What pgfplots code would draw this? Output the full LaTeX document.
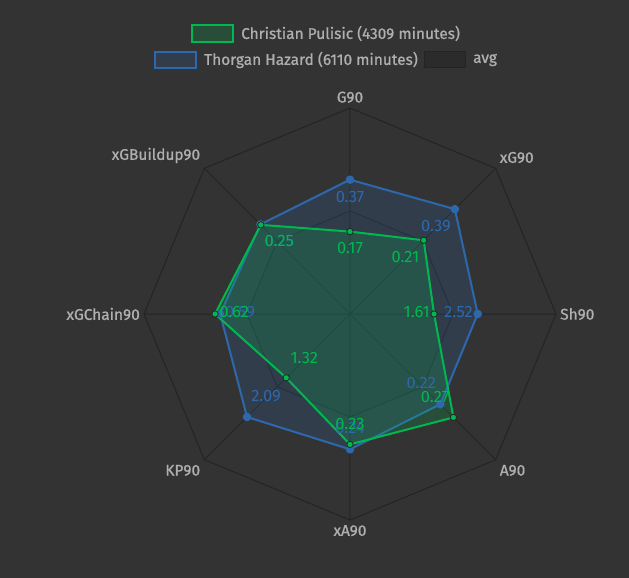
\documentclass[border=0pt]{standalone}
\usepackage{fontspec}
\setmainfont{Fira Sans}
\newfontfamily\medfont{Fira Sans}[FakeBold=0.8]
\usepackage{pgfplots}
\usepackage{pgfplotstable}
\usepgfplotslibrary{polar}
\pgfplotsset{compat=1.18}

\definecolor{bg}{RGB}{51,51,51}
\definecolor{gridc}{RGB}{36,36,36}
\definecolor{grn}{RGB}{0,184,80}
\definecolor{blu}{RGB}{46,104,172}
\definecolor{txt}{RGB}{175,175,175}

% ang = spoke angle, r = plotted radius (share of outer ring), lab = shown value
\pgfplotstableread{
ang r lab
90 0.400 0.17
45 0.506 0.21
0 0.408 1.61
315 0.710 0.27
270 0.633 0.23
225 0.438 1.32
180 0.655 0.62
135 0.612 0.25
}\pulisic

\pgfplotstableread{
ang r lab
90 0.652 0.37
45 0.720 0.39
0 0.620 2.52
315 0.620 0.22
270 0.657 0.24
225 0.707 2.09
180 0.630 0.59
135 0.615 0.25
}\thorgan

\pgfplotstableread{
ang r
90 0.5
45 0.5
0 0.5
315 0.5
270 0.5
225 0.5
180 0.5
135 0.5
}\avg

\pgfplotstableread{
ang r
90 1
45 1
0 1
315 1
270 1
225 1
180 1
135 1
}\ring

\newcommand\tickanchor{\ifcase\ticknum west\or south west\or south\or south east\or east\or north east\or north\or north west\fi}

\pgfplotsset{
    vallabels/.style={
        nodes near coords={\fontsize{16.5}{18}\selectfont\pgfplotspointmeta},
        point meta=explicit symbolic,
        visualization depends on={\thisrow{ang} \as \ang},
        every node near coord/.append style={anchor=\ang, text=#1,
            text opacity=1, fill opacity=1,
            inner xsep=4bp, inner ysep=9.5bp, text height=12bp, text depth=5bp},
    },
}

\begin{document}
\begin{tikzpicture}[x=1bp,y=1bp]
\fill[bg] (-350,-264) rectangle (279,314);
\path[use as bounding box] (-350,-264) rectangle (279,314);
\begin{polaraxis}[
    at={(0,0)}, anchor=center,
    width=412bp, height=412bp, scale only axis,
    ymin=0, ymax=1,
    xtick={0,45,...,315},
    xticklabels={Sh90,xG90,G90,xGBuildup90,xGChain90,KP90,xA90,A90},
    ytick=\empty,
    axis line style={draw=none},
    xmajorgrids,
    grid style={gridc, line width=1bp},
    major tick length=0pt,
    xticklabel style={font=\medfont\fontsize{15.5}{17}\selectfont, text=txt,
        anchor=\tickanchor, inner xsep=4bp, inner ysep=5bp},
    clip=false,
]
\addplot[gridc, line width=1bp] table[x=ang, y=r] {\ring} -- cycle;
\addplot[gridc, line width=1bp, fill=black, fill opacity=0.04] table[x=ang, y=r] {\avg} -- cycle;

\addplot[blu, line width=2bp, fill=blu, fill opacity=0.2,
    mark=*, mark size=3.2bp, mark options={fill=blu, draw=blu, fill opacity=1},
    vallabels=blu]
    table[x=ang, y=r, meta=lab] {\thorgan} -- cycle;

\addplot[grn, line width=2bp, fill=grn, fill opacity=0.2,
    mark=*, mark size=3.2bp, mark options={fill=grn, draw=gridc, line width=0.8bp, fill opacity=1},
    vallabels=grn]
    table[x=ang, y=r, meta=lab] {\pulisic} -- cycle;
\end{polaraxis}

% legend
\begin{scope}[font=\medfont\fontsize{15.5}{17}\selectfont]
\fill[grn, fill opacity=0.2] (-158,272) rectangle (-117,289);
\draw[grn, line width=2bp] (-158,272) rectangle (-117,289);
\node[anchor=west, text=txt, inner sep=0pt] at (-109,280.5) {Christian Pulisic (4309 minutes)};
\fill[blu, fill opacity=0.2] (-195,246) rectangle (-154,262);
\draw[blu, line width=2bp] (-195,246) rectangle (-154,262);
\node[anchor=west, text=txt, inner sep=0pt] at (-146,254) {Thorgan Hazard (6110 minutes)};
\fill[black, fill opacity=0.15] (74,246) rectangle (115,262);
\draw[gridc, line width=1bp] (74,246) rectangle (115,262);
\node[anchor=west, text=txt, inner sep=0pt] at (123,254) {avg};
\end{scope}
\end{tikzpicture}
\end{document}
